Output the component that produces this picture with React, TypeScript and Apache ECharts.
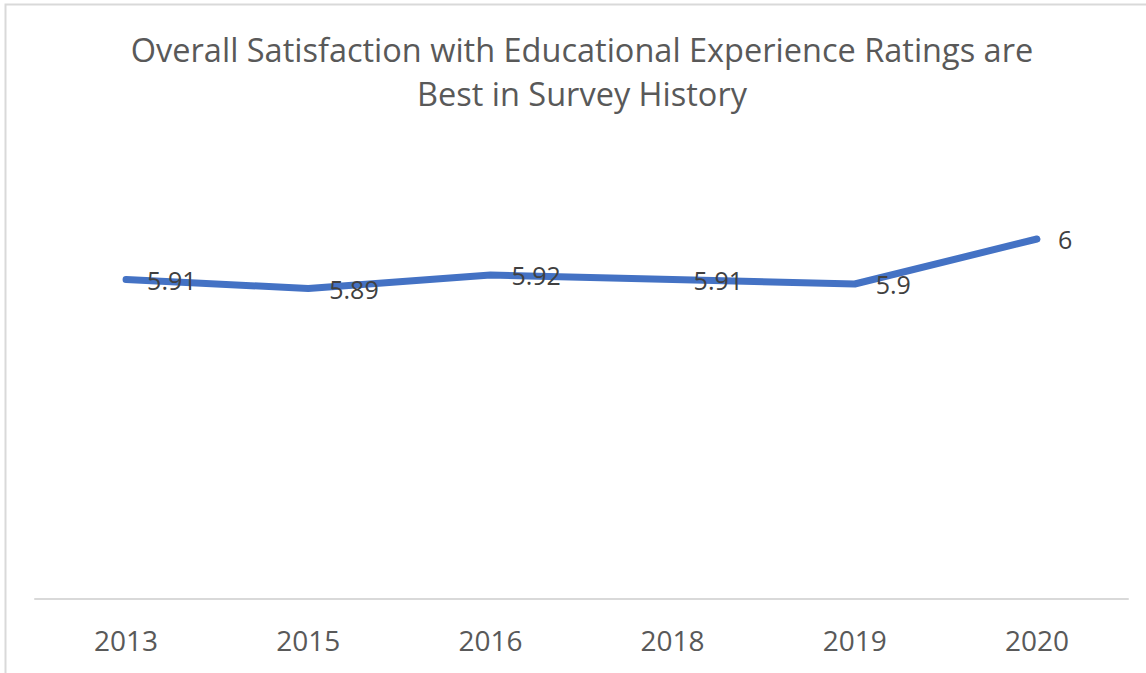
import React, { useEffect, useRef } from "react";
import * as echarts from "echarts";

const titleLines = ["Overall Satisfaction with Educational Experience Ratings are", "Best in Survey History"];
const years = ["2013", "2015", "2016", "2018", "2019", "2020"];
const satisfaction = [5.91, 5.89, 5.92, 5.91, 5.9, 6];

export default function App() {
  const ref = useRef<HTMLDivElement>(null);
  useEffect(() => {
    const chart = echarts.init(ref.current!, null, { renderer: "svg" });
    chart.setOption({
      animation: false,
      backgroundColor: "#ffffff",
      graphic: [
        {
          type: "rect",
          shape: { x: 5.5, y: 4.5, width: 1200, height: 720 },
          style: { fill: "none", stroke: "#D9D9D9", lineWidth: 2 },
          silent: true,
        },
        {
          type: "text",
          x: 582,
          y: 27,
          silent: true,
          style: {
            text: titleLines.join("\n"),
            textAlign: "center",
            textVerticalAlign: "top",
            fontFamily: "Open Sans",
            fontSize: 32.5,
            fontWeight: "normal",
            fill: "#595959",
            lineHeight: 44,
          },
        },
      ],
      grid: { left: 35, right: 18, top: 149, bottom: 74 },
      xAxis: {
        type: "category",
        data: years,
        boundaryGap: true,
        axisLine: { show: true, lineStyle: { color: "#D9D9D9", width: 2 } },
        axisTick: { show: false },
        axisLabel: {
          fontFamily: "Open Sans",
          fontSize: 28,
          color: "#595959",
          margin: 27,
        },
      },
      yAxis: {
        type: "value",
        min: 5.2,
        max: 6.2,
        show: false,
        splitLine: { show: false },
      },
      series: [
        {
          type: "line",
          data: satisfaction,
          symbol: "circle",
          symbolSize: 2,
          showSymbol: true,
          lineStyle: { color: "#4472C4", width: 7, cap: "round", join: "round" },
          itemStyle: { color: "#4472C4" },
          label: {
            show: true,
            position: "right",
            distance: 20,
            fontFamily: "Open Sans",
            fontSize: 25,
            color: "#404040",
            formatter: (p: any) => String(p.value),
          },
        },
      ],
    });
    return () => chart.dispose();
  }, []);
  return (
    <div
      ref={ref}
      style={{ position: "fixed", left: 0, top: 0, width: 1146, height: 673 }}
    />
  );
}
